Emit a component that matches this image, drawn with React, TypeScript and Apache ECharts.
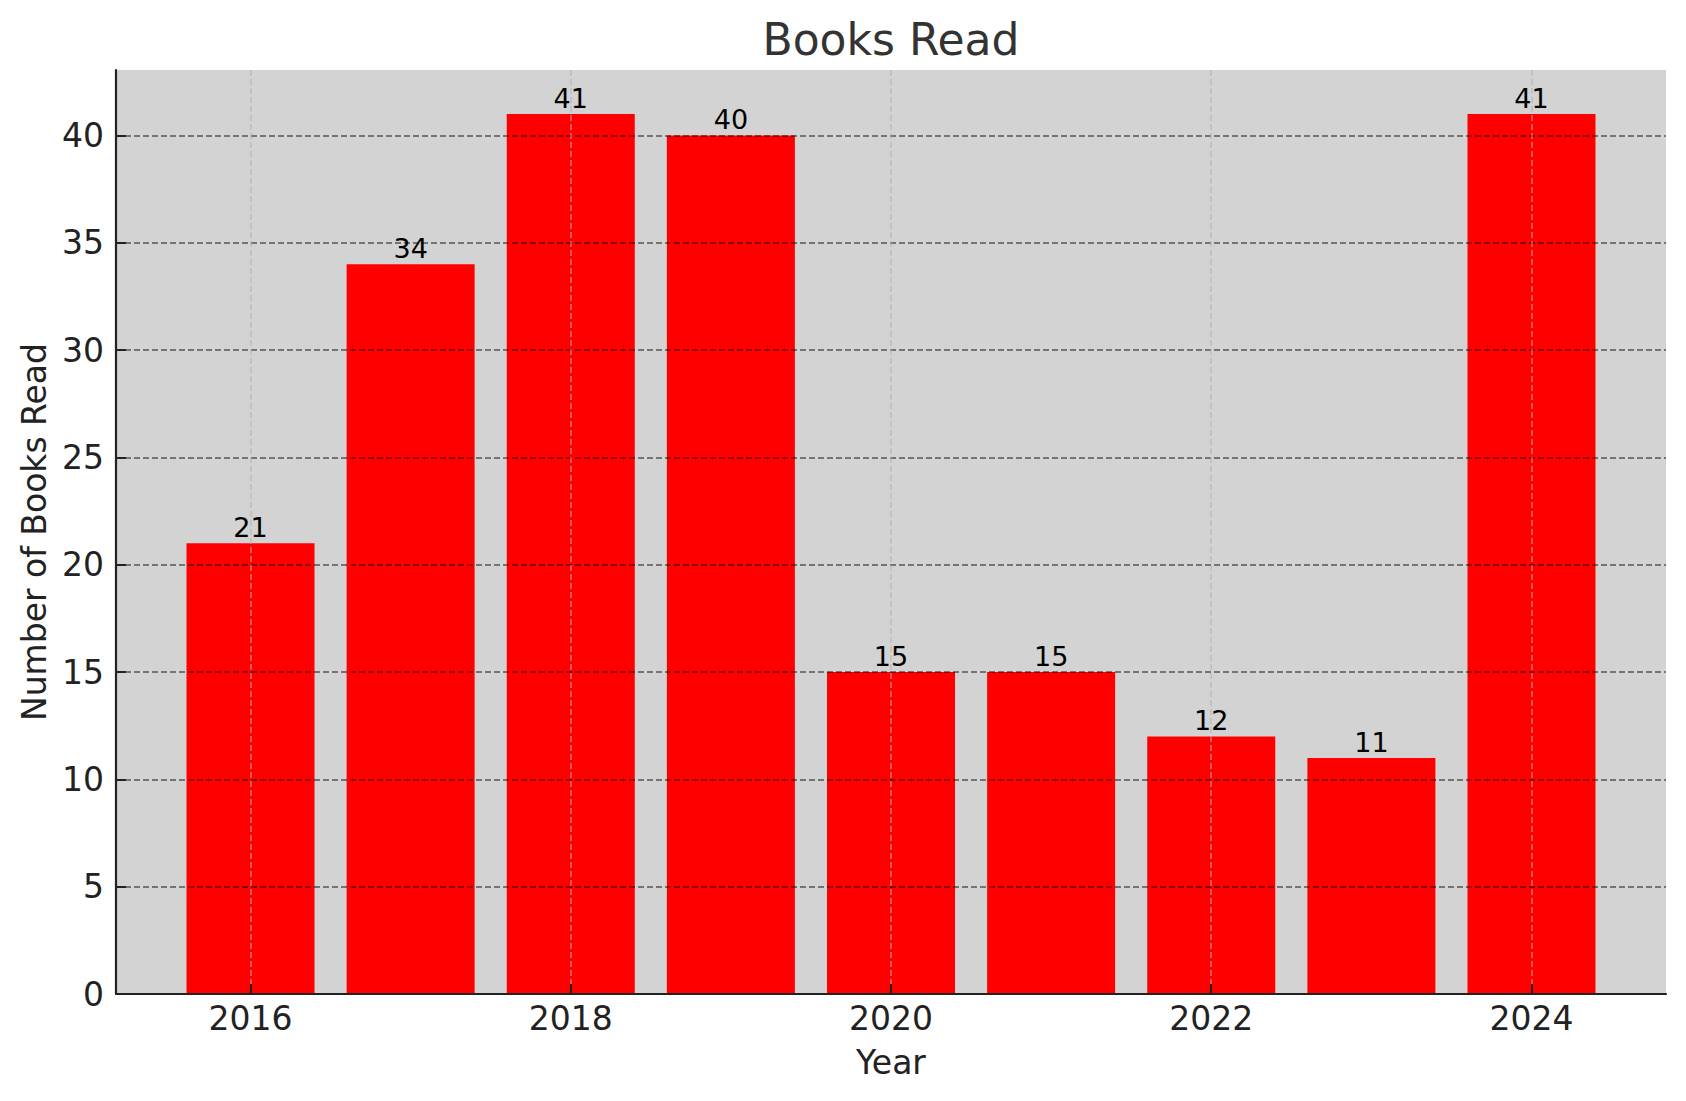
import React, { useEffect, useRef } from "react";
import * as echarts from "echarts";

const years = [2016, 2017, 2018, 2019, 2020, 2021, 2022, 2023, 2024];
const booksRead = [21, 34, 41, 40, 15, 15, 12, 11, 41];
const xTickValues = [2016, 2018, 2020, 2022, 2024];
const yTickValues = [0, 5, 10, 15, 20, 25, 30, 35, 40];

const FONT = "DejaVu Sans";

export default function App() {
  const ref = useRef<HTMLDivElement>(null);

  useEffect(() => {
    if (!ref.current) return;
    const chart = echarts.init(ref.current, undefined, { renderer: "svg" });
    const data = years.map((y, i) => [y, booksRead[i]]);
    chart.setOption({
      animation: false,
      backgroundColor: "#ffffff",
      textStyle: { fontFamily: FONT },
      title: {
        text: "Books Read",
        left: 886,
        top: 12,
        textAlign: "center",
        textStyle: { fontFamily: FONT, fontSize: 44, fontWeight: "normal", color: "#333333" },
      },
      grid: {
        left: 116,
        right: 20,
        top: 70,
        bottom: 107,
        show: true,
        backgroundColor: "#d3d3d3",
        borderWidth: 0,
        containLabel: false,
      },
      xAxis: {
        type: "value",
        min: 2015.16,
        max: 2024.84,
        z: 3,
        name: "Year",
        nameLocation: "middle",
        nameGap: 52,
        nameTextStyle: { fontFamily: FONT, fontSize: 33, color: "#222222" },
        axisLine: { show: true, onZero: false, lineStyle: { color: "#222222", width: 2.2 } },
        axisTick: { show: true, inside: true, length: 10, customValues: xTickValues, lineStyle: { color: "#222222", width: 2 } },
        axisLabel: {
          customValues: xTickValues,
          fontFamily: FONT,
          fontSize: 33,
          color: "#222222",
          margin: 8,
          formatter: (v: number) => String(v),
        },
        splitLine: { show: true, lineStyle: { color: "rgba(176,176,176,0.6)", width: 1.6, type: [6, 3] } },
      },
      yAxis: {
        type: "value",
        min: 0,
        max: 43.05,
        z: 3,
        name: "Number of Books Read",
        nameLocation: "middle",
        nameGap: 65,
        nameTextStyle: { fontFamily: FONT, fontSize: 33, color: "#222222" },
        axisLine: { show: true, lineStyle: { color: "#222222", width: 2.2 } },
        axisTick: { show: true, inside: true, length: 10, customValues: yTickValues, lineStyle: { color: "#222222", width: 2 } },
        axisLabel: {
          customValues: yTickValues,
          fontFamily: FONT,
          fontSize: 33,
          color: "#222222",
          margin: 12,
        },
        splitLine: { show: true, lineStyle: { color: "rgba(0,0,0,0.6)", width: 1.6, type: [6, 3] } },
      },
      series: [
        {
          type: "bar",
          z: 1,
          data,
          barWidth: 128,
          itemStyle: { color: "#ff0000" },
          label: {
            show: true,
            position: "top",
            distance: 2,
            fontFamily: FONT,
            fontSize: 27,
            color: "#000000",
          },
        },
      ],
    });
    return () => chart.dispose();
  }, []);

  return (
    <div
      ref={ref}
      style={{ position: "fixed", left: 0, top: 0, width: 1686, height: 1101 }}
    />
  );
}
